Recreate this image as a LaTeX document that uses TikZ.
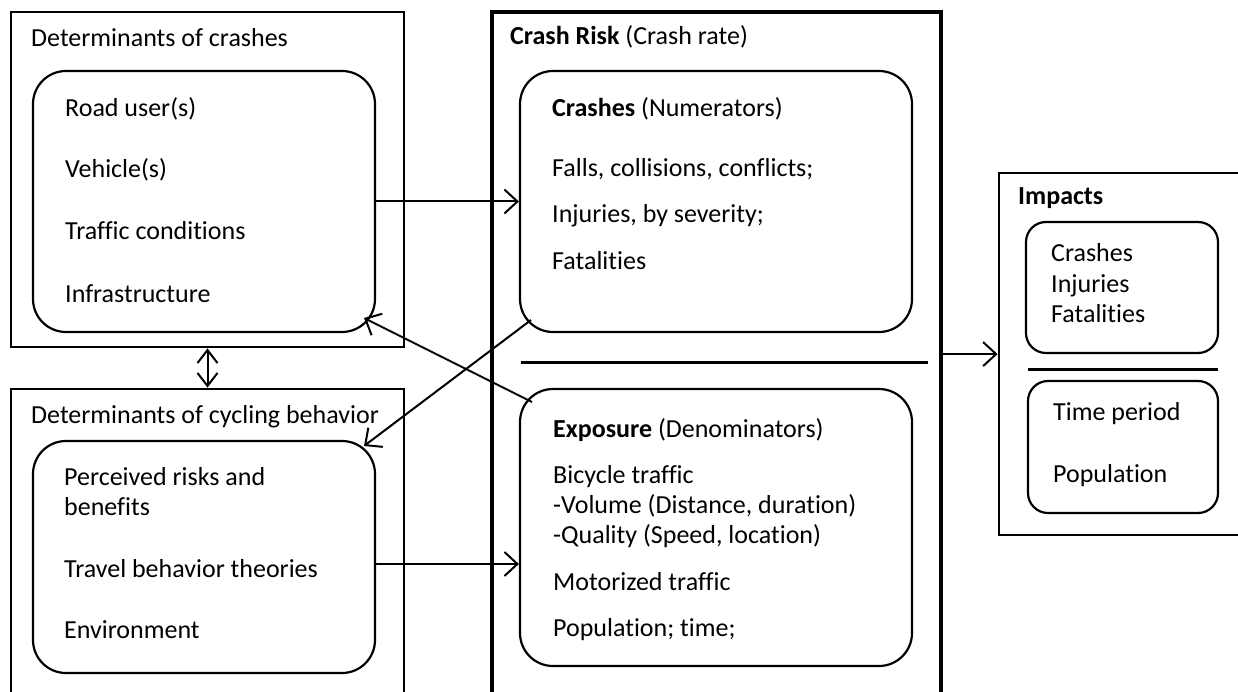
\documentclass[tikz,border=0pt]{standalone}
\usepackage{fontspec}
\setmainfont{Carlito}[Ligatures=NoCommon]
\usetikzlibrary{arrows.meta}
\begin{document}
\begin{tikzpicture}[x=1pt,y=-1pt,
  outerbox/.style={draw,line width=2.8pt,rectangle,inner sep=0pt},
  riskbox/.style={draw,line width=3.2pt,rectangle,inner sep=0pt},
  roundbox/.style={draw,line width=2.2pt,rectangle,rounded corners=33pt,inner sep=0pt},
  smallround/.style={draw,line width=2.2pt,rectangle,rounded corners=20pt,inner sep=0pt},
  sepline/.style={line width=3pt},
  arr/.style={line width=2pt,-{Straight Barb[length=13pt,width=24pt,line width=2pt]}},
  dblarr/.style={line width=2pt,{Straight Barb[length=13pt,width=20pt,line width=2pt]}-{Straight Barb[length=13pt,width=20pt,line width=2pt]}},
  txt/.style={anchor=base west,inner sep=0pt,font=\fontsize{26}{31}\selectfont}
]
\useasboundingbox (0,0) rectangle (1238,692);
\clip (0,0) rectangle (1238,692);
\fill[white] (0,0) rectangle (1238,692);

% boxes
\node[outerbox,minimum width=393pt,minimum height=335pt] (out1) at (207.5,179.5) {};
\node[roundbox,minimum width=342pt,minimum height=261pt] (in1) at (204,201.5) {};
\node[outerbox,minimum width=393pt,minimum height=321pt] (out2) at (207.5,549.5) {};
\node[roundbox,minimum width=342pt,minimum height=232pt] (in2) at (204,557) {};
\node[riskbox,minimum width=449pt,minimum height=698pt] (risk) at (716.5,361) {};
\node[roundbox,minimum width=392pt,minimum height=261pt] (crashes) at (716,201.5) {};
\node[roundbox,minimum width=392pt,minimum height=277pt] (exposure) at (716,527.5) {};
\node[outerbox,minimum width=246pt,minimum height=362pt] (impacts) at (1122,354) {};
\node[smallround,minimum width=192pt,minimum height=131pt] (impA) at (1122,287.5) {};
\node[smallround,minimum width=190pt,minimum height=132pt] (impB) at (1123,447) {};

% separators
\coordinate (s1a) at (521,362);
\coordinate (s1b) at (928,362);
\draw[sepline] (s1a) -- (s1b);
\coordinate (s2a) at (1028,369);
\coordinate (s2b) at (1218,369);
\draw[sepline] (s2a) -- (s2b);

% texts
\node[txt] (t1) at (31,47) {Determinants of crashes};
\node[txt] (t1a) at (65,117) {Road user(s)};
\node[txt] (t1b) at (65,178) {Vehicle(s)};
\node[txt] (t1c) at (65,240) {Traffic conditions};
\node[txt] (t1d) at (65,302) {Infrastructure};

\node[txt] (t2) at (31,423) {Determinants of cycling behavior};
\node[txt] (t2a) at (64,485) {Perceived risks and};
\node[txt] (t2b) at (64,515) {benefits};
\node[txt] (t2c) at (64,577) {Travel behavior theories};
\node[txt] (t2d) at (64,638) {Environment};

\node[txt] (t3) at (510,45) {\textbf{Crash Risk} (Crash rate)};
\node[txt] (t3a) at (552,117) {\textbf{Crashes} (Numerators)};
\node[txt] (t3b) at (552,177) {Falls, collisions, conflicts;};
\node[txt] (t3c) at (552,223) {Injuries, by severity;};
\node[txt] (t3d) at (552,270) {Fatalities};

\node[txt] (t4a) at (553,437) {\textbf{Exposure} (Denominators)};
\node[txt] (t4b) at (553,483) {Bicycle traffic};
\node[txt] (t4c) at (553,513) {-Volume (Distance, duration)};
\node[txt] (t4d) at (553,543) {-Quality (Speed, location)};
\node[txt] (t4e) at (553,590) {Motorized traffic};
\node[txt] (t4f) at (553,636) {Population; time;};

\node[txt] (t5) at (1018,205) {\textbf{Impacts}};
\node[txt] (t5a) at (1051,262) {Crashes};
\node[txt] (t5b) at (1051,292) {Injuries};
\node[txt] (t5c) at (1051,322) {Fatalities};
\node[txt] (t5d) at (1053,420) {Time period};
\node[txt] (t5e) at (1053,482) {Population};

% connectors
\draw[arr] (in1.east) -- (crashes.west);
\draw[arr] (in2.east |- 0,564) -- (exposure.west |- 0,564);
\draw[arr] (risk.east |- impA.south) -- (impacts.west |- impA.south);
\draw[dblarr] (out1.south) -- (out2.north);
\coordinate (a1) at (531,320);
\coordinate (a2) at (364,446);
\draw[arr] (a1) -- (a2);
\coordinate (b1) at (532,402);
\coordinate (b2) at (364,318);
\draw[arr] (b1) -- (b2);
\end{tikzpicture}
\end{document}
